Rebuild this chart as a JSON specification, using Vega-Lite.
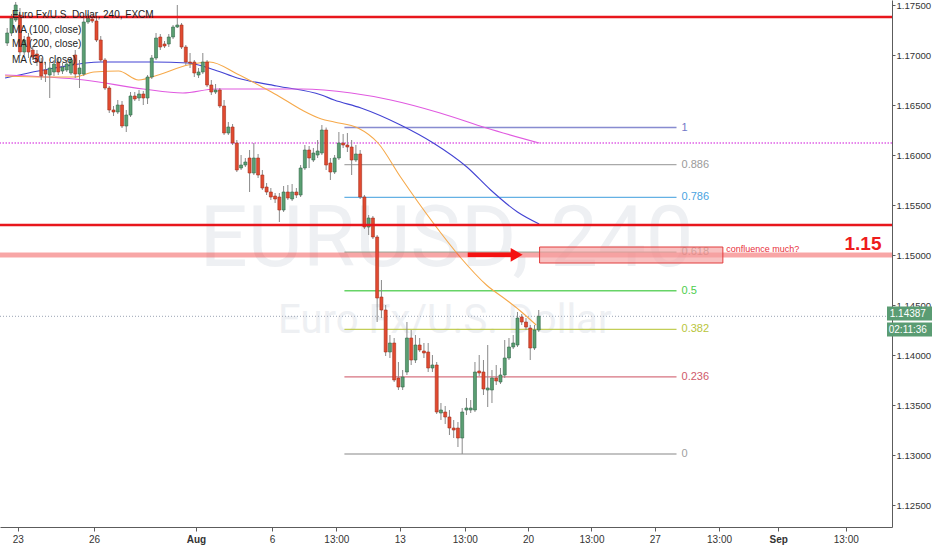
{
  "$schema": "https://vega.github.io/schema/vega-lite/v6.json",
  "width": 892,
  "height": 527,
  "autosize": {"type": "none"},
  "padding": {"left": 0, "top": 0, "right": 40, "bottom": 23},
  "background": "#ffffff",
  "config": {
    "font": "Liberation Sans",
    "view": {"stroke": null},
    "axis": {"grid": false, "domainColor": "#5c5c5c", "tickColor": "#5c5c5c", "labelColor": "#333333", "labelFontSize": 10, "labelFont": "Liberation Sans"}
  },
  "datasets": {
    "candles": [
      {"t":0,"o":1.1712,"h":1.1727,"l":1.1709,"c":1.1722},
      {"t":1,"o":1.1722,"h":1.1741,"l":1.1719,"c":1.1737},
      {"t":2,"o":1.1735,"h":1.1753,"l":1.1733,"c":1.1750},
      {"t":3,"o":1.1740,"h":1.1747,"l":1.1699,"c":1.1703},
      {"t":4,"o":1.1703,"h":1.1719,"l":1.1700,"c":1.1715},
      {"t":5,"o":1.1718,"h":1.1722,"l":1.1697,"c":1.1703},
      {"t":6,"o":1.1705,"h":1.1709,"l":1.1695,"c":1.1698},
      {"t":7,"o":1.1701,"h":1.1705,"l":1.1689,"c":1.1693},
      {"t":8,"o":1.1693,"h":1.1697,"l":1.1675,"c":1.1679},
      {"t":9,"o":1.1685,"h":1.1693,"l":1.1673,"c":1.1681},
      {"t":10,"o":1.1680,"h":1.1693,"l":1.1657,"c":1.1687},
      {"t":11,"o":1.1683,"h":1.1695,"l":1.1679,"c":1.1691},
      {"t":12,"o":1.1693,"h":1.1697,"l":1.1680,"c":1.1683},
      {"t":13,"o":1.1684,"h":1.1692,"l":1.1681,"c":1.1688},
      {"t":14,"o":1.1685,"h":1.1695,"l":1.1683,"c":1.1691},
      {"t":15,"o":1.1682,"h":1.1697,"l":1.1680,"c":1.1695},
      {"t":16,"o":1.1700,"h":1.1705,"l":1.1677,"c":1.1681},
      {"t":17,"o":1.1681,"h":1.1695,"l":1.1667,"c":1.1687},
      {"t":18,"o":1.1681,"h":1.1737,"l":1.1679,"c":1.1733},
      {"t":19,"o":1.1733,"h":1.1741,"l":1.1731,"c":1.1737},
      {"t":20,"o":1.1736,"h":1.1740,"l":1.1732,"c":1.1734},
      {"t":21,"o":1.1734,"h":1.1737,"l":1.1713,"c":1.1715},
      {"t":22,"o":1.1715,"h":1.1719,"l":1.1693,"c":1.1695},
      {"t":23,"o":1.1695,"h":1.1697,"l":1.1665,"c":1.1667},
      {"t":24,"o":1.1667,"h":1.1669,"l":1.1642,"c":1.1645},
      {"t":25,"o":1.1645,"h":1.1649,"l":1.1639,"c":1.1643},
      {"t":26,"o":1.1643,"h":1.1655,"l":1.1641,"c":1.1650},
      {"t":27,"o":1.1650,"h":1.1654,"l":1.1627,"c":1.1629},
      {"t":28,"o":1.1629,"h":1.1645,"l":1.1623,"c":1.1640},
      {"t":29,"o":1.1640,"h":1.1663,"l":1.1638,"c":1.1659},
      {"t":30,"o":1.1659,"h":1.1663,"l":1.1654,"c":1.1656},
      {"t":31,"o":1.1657,"h":1.1665,"l":1.1654,"c":1.1661},
      {"t":32,"o":1.1661,"h":1.1664,"l":1.1650,"c":1.1657},
      {"t":33,"o":1.1657,"h":1.1680,"l":1.1651,"c":1.1678},
      {"t":34,"o":1.1678,"h":1.1700,"l":1.1676,"c":1.1697},
      {"t":35,"o":1.1697,"h":1.1722,"l":1.1695,"c":1.1717},
      {"t":36,"o":1.1718,"h":1.1721,"l":1.1705,"c":1.1708},
      {"t":37,"o":1.1711,"h":1.1714,"l":1.1707,"c":1.1709},
      {"t":38,"o":1.1711,"h":1.1721,"l":1.1708,"c":1.1718},
      {"t":39,"o":1.1718,"h":1.1730,"l":1.1716,"c":1.1728},
      {"t":40,"o":1.1728,"h":1.1750,"l":1.1727,"c":1.1730},
      {"t":41,"o":1.1730,"h":1.1732,"l":1.1706,"c":1.1708},
      {"t":42,"o":1.1708,"h":1.1710,"l":1.1690,"c":1.1693},
      {"t":43,"o":1.1693,"h":1.1702,"l":1.1687,"c":1.1692},
      {"t":44,"o":1.1693,"h":1.1695,"l":1.1678,"c":1.1682},
      {"t":45,"o":1.1680,"h":1.1687,"l":1.1677,"c":1.1683},
      {"t":46,"o":1.1683,"h":1.1702,"l":1.1681,"c":1.1693},
      {"t":47,"o":1.1693,"h":1.1695,"l":1.1668,"c":1.1670},
      {"t":48,"o":1.1670,"h":1.1675,"l":1.1660,"c":1.1663},
      {"t":49,"o":1.1663,"h":1.1671,"l":1.1661,"c":1.1665},
      {"t":50,"o":1.1665,"h":1.1667,"l":1.1647,"c":1.1649},
      {"t":51,"o":1.1649,"h":1.1655,"l":1.1620,"c":1.1622},
      {"t":52,"o":1.1622,"h":1.1633,"l":1.1620,"c":1.1628},
      {"t":53,"o":1.1628,"h":1.1631,"l":1.1610,"c":1.1612},
      {"t":54,"o":1.1612,"h":1.1615,"l":1.1583,"c":1.1585},
      {"t":55,"o":1.1587,"h":1.1600,"l":1.1585,"c":1.1590},
      {"t":56,"o":1.1590,"h":1.1597,"l":1.1588,"c":1.1593},
      {"t":57,"o":1.1597,"h":1.1605,"l":1.1563,"c":1.1582},
      {"t":58,"o":1.1582,"h":1.1612,"l":1.1580,"c":1.1597},
      {"t":59,"o":1.1597,"h":1.1601,"l":1.1577,"c":1.1580},
      {"t":60,"o":1.1580,"h":1.1585,"l":1.1565,"c":1.1567},
      {"t":61,"o":1.1568,"h":1.1572,"l":1.1560,"c":1.1563},
      {"t":62,"o":1.1563,"h":1.1567,"l":1.1555,"c":1.1558},
      {"t":63,"o":1.1559,"h":1.1562,"l":1.1552,"c":1.1556},
      {"t":64,"o":1.1558,"h":1.1562,"l":1.1533,"c":1.1545},
      {"t":65,"o":1.1545,"h":1.1569,"l":1.1543,"c":1.1563},
      {"t":66,"o":1.1563,"h":1.1570,"l":1.1555,"c":1.1557},
      {"t":67,"o":1.1556,"h":1.1571,"l":1.1554,"c":1.1563},
      {"t":68,"o":1.1563,"h":1.1567,"l":1.1557,"c":1.1560},
      {"t":69,"o":1.1560,"h":1.1590,"l":1.1558,"c":1.1587},
      {"t":70,"o":1.1587,"h":1.1610,"l":1.1585,"c":1.1605},
      {"t":71,"o":1.1605,"h":1.1609,"l":1.1587,"c":1.1597},
      {"t":72,"o":1.1595,"h":1.1607,"l":1.1593,"c":1.1602},
      {"t":73,"o":1.1600,"h":1.1615,"l":1.1597,"c":1.1604},
      {"t":74,"o":1.1602,"h":1.1630,"l":1.1600,"c":1.1625},
      {"t":75,"o":1.1625,"h":1.16275,"l":1.1585,"c":1.1590},
      {"t":76,"o":1.1592,"h":1.1597,"l":1.1575,"c":1.1583},
      {"t":77,"o":1.1583,"h":1.1600,"l":1.1581,"c":1.1597},
      {"t":78,"o":1.1597,"h":1.1623,"l":1.1595,"c":1.1612},
      {"t":79,"o":1.1612,"h":1.1621,"l":1.1607,"c":1.1610},
      {"t":80,"o":1.1610,"h":1.1622,"l":1.1603,"c":1.1608},
      {"t":81,"o":1.1608,"h":1.1615,"l":1.1580,"c":1.1595},
      {"t":82,"o":1.1595,"h":1.1610,"l":1.1593,"c":1.1601},
      {"t":83,"o":1.1601,"h":1.1605,"l":1.1556,"c":1.1558},
      {"t":84,"o":1.1558,"h":1.1560,"l":1.1526,"c":1.1528},
      {"t":85,"o":1.1528,"h":1.1540,"l":1.1520,"c":1.1537},
      {"t":86,"o":1.1537,"h":1.1539,"l":1.1516,"c":1.1518},
      {"t":87,"o":1.1518,"h":1.1520,"l":1.1433,"c":1.1457},
      {"t":88,"o":1.1458,"h":1.1475,"l":1.1437,"c":1.1445},
      {"t":89,"o":1.1445,"h":1.1450,"l":1.1399,"c":1.1403},
      {"t":90,"o":1.1403,"h":1.1420,"l":1.1397,"c":1.1412},
      {"t":91,"o":1.1412,"h":1.1417,"l":1.1373,"c":1.1375},
      {"t":92,"o":1.1377,"h":1.1393,"l":1.1365,"c":1.1368},
      {"t":93,"o":1.1368,"h":1.1385,"l":1.1365,"c":1.1378},
      {"t":94,"o":1.1383,"h":1.1433,"l":1.1380,"c":1.1417},
      {"t":95,"o":1.1417,"h":1.1425,"l":1.1390,"c":1.1395},
      {"t":96,"o":1.1395,"h":1.1420,"l":1.1392,"c":1.1410},
      {"t":97,"o":1.1410,"h":1.1417,"l":1.1403,"c":1.1405},
      {"t":98,"o":1.1404,"h":1.1412,"l":1.1397,"c":1.1402},
      {"t":99,"o":1.1403,"h":1.1412,"l":1.1383,"c":1.1387},
      {"t":100,"o":1.1387,"h":1.1400,"l":1.1383,"c":1.1390},
      {"t":101,"o":1.1390,"h":1.1393,"l":1.1341,"c":1.1343},
      {"t":102,"o":1.1342,"h":1.1352,"l":1.1335,"c":1.1345},
      {"t":103,"o":1.1343,"h":1.1349,"l":1.1331,"c":1.1338},
      {"t":104,"o":1.1338,"h":1.1345,"l":1.1320,"c":1.1327},
      {"t":105,"o":1.1327,"h":1.1335,"l":1.1317,"c":1.1325},
      {"t":106,"o":1.1327,"h":1.1333,"l":1.1308,"c":1.1317},
      {"t":107,"o":1.1317,"h":1.1347,"l":1.1301,"c":1.1343},
      {"t":108,"o":1.1345,"h":1.1357,"l":1.1340,"c":1.1347},
      {"t":109,"o":1.1345,"h":1.1355,"l":1.1342,"c":1.1347},
      {"t":110,"o":1.1345,"h":1.1393,"l":1.1343,"c":1.1383},
      {"t":111,"o":1.1384,"h":1.1400,"l":1.1379,"c":1.1382},
      {"t":112,"o":1.1383,"h":1.1395,"l":1.1360,"c":1.1366},
      {"t":113,"o":1.1365,"h":1.1410,"l":1.1348,"c":1.1367},
      {"t":114,"o":1.1365,"h":1.1385,"l":1.1352,"c":1.1377},
      {"t":115,"o":1.1377,"h":1.1390,"l":1.1370,"c":1.1374},
      {"t":116,"o":1.1373,"h":1.1387,"l":1.1371,"c":1.1380},
      {"t":117,"o":1.1380,"h":1.1415,"l":1.1377,"c":1.1397},
      {"t":118,"o":1.1397,"h":1.1417,"l":1.1395,"c":1.1408},
      {"t":119,"o":1.1408,"h":1.1420,"l":1.1406,"c":1.1412},
      {"t":120,"o":1.1410,"h":1.1443,"l":1.1408,"c":1.1437},
      {"t":121,"o":1.1438,"h":1.1441,"l":1.1430,"c":1.1433},
      {"t":122,"o":1.1433,"h":1.1437,"l":1.1425,"c":1.1428},
      {"t":123,"o":1.1427,"h":1.1430,"l":1.1395,"c":1.1407},
      {"t":124,"o":1.1407,"h":1.1430,"l":1.1405,"c":1.1425},
      {"t":125,"o":1.1425,"h":1.1445,"l":1.1423,"c":1.14387}
    ],
    "ma": [
      {"ma":"MA100","t":-0.5,"p":1.1677},{"ma":"MA100","t":11.1,"p":1.1687},{"ma":"MA100","t":22.0,"p":1.1693},
      {"ma":"MA100","t":34.4,"p":1.1693},{"ma":"MA100","t":42.5,"p":1.1692},{"ma":"MA100","t":48.8,"p":1.1685},
      {"ma":"MA100","t":54.1,"p":1.1677},{"ma":"MA100","t":63.4,"p":1.1669},{"ma":"MA100","t":73.9,"p":1.1660},
      {"ma":"MA100","t":76.9,"p":1.1655},{"ma":"MA100","t":83.2,"p":1.1647},{"ma":"MA100","t":92.5,"p":1.1630},
      {"ma":"MA100","t":100.2,"p":1.1612},{"ma":"MA100","t":108.1,"p":1.1588},{"ma":"MA100","t":113.7,"p":1.1565},
      {"ma":"MA100","t":120.0,"p":1.1543},{"ma":"MA100","t":125.1,"p":1.1531},
      {"ma":"MA200","t":-0.5,"p":1.1680},{"ma":"MA200","t":18.1,"p":1.1675},{"ma":"MA200","t":32.0,"p":1.1666},
      {"ma":"MA200","t":41.3,"p":1.1662},{"ma":"MA200","t":49.0,"p":1.1666},{"ma":"MA200","t":69.3,"p":1.1666},
      {"ma":"MA200","t":80.9,"p":1.1662},{"ma":"MA200","t":90.2,"p":1.1655},{"ma":"MA200","t":101.8,"p":1.1642},
      {"ma":"MA200","t":112.7,"p":1.1627},{"ma":"MA200","t":125.1,"p":1.1612},
      {"ma":"MA50","t":-0.5,"p":1.1679},{"ma":"MA50","t":8.8,"p":1.1678},{"ma":"MA50","t":15.8,"p":1.1678},
      {"ma":"MA50","t":20.4,"p":1.1683},{"ma":"MA50","t":26.2,"p":1.1684},{"ma":"MA50","t":30.9,"p":1.1675},
      {"ma":"MA50","t":35.5,"p":1.1680},{"ma":"MA50","t":42.5,"p":1.1690},{"ma":"MA50","t":47.6,"p":1.1693},
      {"ma":"MA50","t":54.1,"p":1.1681},{"ma":"MA50","t":60.4,"p":1.1667},{"ma":"MA50","t":63.4,"p":1.1660},
      {"ma":"MA50","t":69.3,"p":1.1645},{"ma":"MA50","t":73.9,"p":1.1636},{"ma":"MA50","t":76.9,"p":1.1633},
      {"ma":"MA50","t":82.5,"p":1.1627},{"ma":"MA50","t":87.2,"p":1.1612},{"ma":"MA50","t":92.5,"p":1.1578},
      {"ma":"MA50","t":100.2,"p":1.1532},{"ma":"MA50","t":106.5,"p":1.1498},{"ma":"MA50","t":112.7,"p":1.1470},
      {"ma":"MA50","t":117.4,"p":1.1455},{"ma":"MA50","t":120.4,"p":1.1445},{"ma":"MA50","t":124.4,"p":1.1430}
    ],
    "fib": [
      {"lv":"1","p":1.16275,"x0":79.3,"x1":157.4},
      {"lv":"0.886","p":1.15903,"x0":79.3,"x1":157.4},
      {"lv":"0.786","p":1.15576,"x0":79.3,"x1":157.4},
      {"lv":"0.618","p":1.15028,"x0":79.3,"x1":157.4},
      {"lv":"0.5","p":1.146425,"x0":79.3,"x1":157.4},
      {"lv":"0.382","p":1.142572,"x0":79.3,"x1":157.4},
      {"lv":"0.236","p":1.137805,"x0":79.3,"x1":157.4},
      {"lv":"0","p":1.1301,"x0":79.3,"x1":157.4}
    ]
  },
  "layer": [
    {
      "data": {"values": [{"t": 103.3, "p": 1.1515, "txt": "EURUSD, 240"}]},
      "mark": {"type": "text", "font": "Roboto", "fontSize": 85, "color": "#eef0f3", "align": "center", "baseline": "middle"},
      "encoding": {
        "x": {"field": "t", "type": "quantitative", "title": null},
        "y": {"field": "p", "type": "quantitative", "title": null},
        "text": {"field": "txt"}
      }
    },
    {
      "data": {"values": [{"t": 102.9, "p": 1.1434, "txt": "Euro Fx/U.S. Dollar"}]},
      "mark": {"type": "text", "font": "Roboto", "fontSize": 40, "color": "#eef0f3", "align": "center", "baseline": "middle"},
      "encoding": {
        "x": {"field": "t", "type": "quantitative", "title": null},
        "y": {"field": "p", "type": "quantitative", "title": null},
        "text": {"field": "txt"}
      }
    },
    {
      "data": {"values": [{"p": 1.1612}]},
      "mark": {"type": "rule", "color": "#e060e6", "strokeWidth": 1.5, "strokeDash": [1.5, 1.5]},
      "encoding": {"y": {"field": "p", "type": "quantitative", "title": null}}
    },
    {
      "data": {"values": [{"p": 1.14387}]},
      "mark": {"type": "rule", "color": "#9aa3b3", "strokeWidth": 1, "strokeDash": [1, 2]},
      "encoding": {"y": {"field": "p", "type": "quantitative", "title": null}}
    },
    {
      "data": {"name": "fib"},
      "mark": {"type": "rule", "strokeWidth": 1.3, "opacity": 0.85},
      "encoding": {
        "x": {"field": "x0", "type": "quantitative", "title": null},
        "x2": {"field": "x1", "title": null},
        "y": {"field": "p", "type": "quantitative", "title": null},
        "color": {"field": "lv", "type": "nominal", "legend": null,
          "scale": {"domain": ["1", "0.886", "0.786", "0.618", "0.5", "0.382", "0.236", "0"],
                    "range": ["#7378c8", "#9a9a9a", "#4aa3df", "#8fa08f", "#4ccd4c", "#b9c53a", "#cf5a6a", "#a0a0a0"]}}
      }
    },
    {
      "data": {"name": "fib"},
      "mark": {"type": "text", "fontSize": 11, "align": "left", "baseline": "middle", "dx": 5},
      "encoding": {
        "x": {"field": "x1", "type": "quantitative", "title": null},
        "y": {"field": "p", "type": "quantitative", "title": null},
        "text": {"field": "lv"},
        "color": {"field": "lv", "type": "nominal", "legend": null}
      }
    },
    {
      "data": {"name": "ma"},
      "mark": {"type": "line", "strokeWidth": 1.1, "interpolate": "monotone"},
      "encoding": {
        "x": {"field": "t", "type": "quantitative", "title": null},
        "y": {"field": "p", "type": "quantitative", "title": null},
        "stroke": {"field": "ma", "type": "nominal", "legend": null,
          "scale": {"domain": ["MA100", "MA200", "MA50"], "range": ["#4343d3", "#e05ae0", "#f6a94a"]}}
      }
    },
    {
      "data": {"name": "candles"},
      "mark": {"type": "rule", "color": "#8a8a8a", "strokeWidth": 1},
      "encoding": {
        "x": {"field": "t", "type": "quantitative", "title": null},
        "y": {"field": "l", "type": "quantitative", "title": null},
        "y2": {"field": "h", "title": null}
      }
    },
    {
      "data": {"name": "candles"},
      "mark": {"type": "bar", "size": 3, "strokeWidth": 0.6},
      "encoding": {
        "x": {"field": "t", "type": "quantitative", "title": null,
          "scale": {"domain": [-0.52, 206.9], "nice": false, "zero": false},
          "axis": {
            "orient": "bottom",
            "values": [2.5, 20.4, 44.4, 62.3, 77.4, 92.3, 107.6, 122.5, 137.4, 152.3, 167.4, 181.3, 197.2],
            "labelExpr": "datum.value < 10 ? '23' : datum.value < 30 ? '26' : datum.value < 50 ? 'Aug' : datum.value < 70 ? '6' : datum.value < 85 ? '13:00' : datum.value < 100 ? '13' : datum.value < 115 ? '13:00' : datum.value < 130 ? '20' : datum.value < 145 ? '13:00' : datum.value < 160 ? '27' : datum.value < 175 ? '13:00' : datum.value < 190 ? 'Sep' : '13:00'",
            "labelFontWeight": {"condition": {"test": "(datum.value > 40 && datum.value < 50) || (datum.value > 175 && datum.value < 190)", "value": "bold"}, "value": "normal"},
            "tickSize": 4, "labelPadding": 3, "labelFlush": false, "labelOverlap": false, "labelBound": false
          }
        },
        "y": {"field": "o", "type": "quantitative", "title": null,
          "scale": {"domain": [1.1228, 1.1755], "nice": false, "zero": false},
          "axis": {
            "orient": "right",
            "values": [1.125, 1.13, 1.135, 1.14, 1.145, 1.15, 1.155, 1.16, 1.165, 1.17, 1.175],
            "format": ".5f", "tickSize": 3, "labelPadding": 1, "labelFontSize": 9.6, "labelFlush": false, "labelOverlap": false, "labelBound": false
          }
        },
        "y2": {"field": "c", "title": null},
        "fill": {"condition": {"test": "datum.c >= datum.o", "value": "#5a9f72"}, "value": "#e24a30"},
        "stroke": {"condition": {"test": "datum.c >= datum.o", "value": "#33684a"}, "value": "#a3301f"}
      }
    },
    {
      "data": {"values": [{"p": 1.1738}, {"p": 1.1530}]},
      "mark": {"type": "rule", "color": "#e8161c", "strokeWidth": 2.5},
      "encoding": {"y": {"field": "p", "type": "quantitative", "title": null}}
    },
    {
      "data": {"values": [{"p": 1.1500}]},
      "mark": {"type": "rule", "color": "#f03a3a", "strokeWidth": 5, "opacity": 0.45},
      "encoding": {"y": {"field": "p", "type": "quantitative", "title": null}}
    },
    {
      "data": {"values": [{"t0": 125.2, "t1": 168.3, "p0": 1.1492, "p1": 1.1508}]},
      "mark": {"type": "rect", "fill": "#f5a0a0", "fillOpacity": 0.65, "stroke": "#e23c3c", "strokeWidth": 1},
      "encoding": {
        "x": {"field": "t0", "type": "quantitative", "title": null},
        "x2": {"field": "t1", "title": null},
        "y": {"field": "p0", "type": "quantitative", "title": null},
        "y2": {"field": "p1", "title": null}
      }
    },
    {
      "data": {"values": [{"t0": 108.3, "t1": 118.8, "p": 1.15002}]},
      "mark": {"type": "rule", "color": "#f51212", "strokeWidth": 4.5},
      "encoding": {
        "x": {"field": "t0", "type": "quantitative", "title": null},
        "x2": {"field": "t1", "title": null},
        "y": {"field": "p", "type": "quantitative", "title": null}
      }
    },
    {
      "data": {"values": [{"t": 119.8, "p": 1.15002}]},
      "mark": {"type": "point", "shape": "triangle-right", "size": 190, "filled": true, "color": "#f51212", "opacity": 1},
      "encoding": {
        "x": {"field": "t", "type": "quantitative", "title": null},
        "y": {"field": "p", "type": "quantitative", "title": null}
      }
    },
    {
      "data": {"values": [{"t": 169.1, "p": 1.1506, "txt": "confluence much?"}]},
      "mark": {"type": "text", "fontSize": 9, "color": "#e8303c", "align": "left", "baseline": "middle"},
      "encoding": {
        "x": {"field": "t", "type": "quantitative", "title": null},
        "y": {"field": "p", "type": "quantitative", "title": null},
        "text": {"field": "txt"}
      }
    },
    {
      "data": {"values": [{"t": 205.6, "p": 1.15115, "txt": "1.15"}]},
      "mark": {"type": "text", "fontSize": 19, "fontWeight": "bold", "color": "#ee1c1c", "align": "right", "baseline": "middle"},
      "encoding": {
        "x": {"field": "t", "type": "quantitative", "title": null},
        "y": {"field": "p", "type": "quantitative", "title": null},
        "text": {"field": "txt"}
      }
    },
    {
      "data": {"values": [
        {"t": 1.1, "p": 1.1740, "txt": "Euro Fx/U.S. Dollar, 240, FXCM"},
        {"t": 1.1, "p": 1.1725, "txt": "MA (100, close)"},
        {"t": 1.1, "p": 1.1711, "txt": "MA (200, close)"},
        {"t": 1.1, "p": 1.1695, "txt": "MA (50, close)"}
      ]},
      "mark": {"type": "text", "fontSize": 10, "color": "#222222", "align": "left", "baseline": "middle"},
      "encoding": {
        "x": {"field": "t", "type": "quantitative", "title": null},
        "y": {"field": "p", "type": "quantitative", "title": null},
        "text": {"field": "txt"}
      }
    },
    {
      "data": {"values": [
        {"t0": 206.9, "t1": 217.5, "p0": 1.14485, "p1": 1.14345},
        {"t0": 206.9, "t1": 217.5, "p0": 1.14325, "p1": 1.14185}
      ]},
      "mark": {"type": "rect", "fill": "#5a9c73"},
      "encoding": {
        "x": {"field": "t0", "type": "quantitative", "title": null},
        "x2": {"field": "t1", "title": null},
        "y": {"field": "p0", "type": "quantitative", "title": null},
        "y2": {"field": "p1", "title": null}
      }
    },
    {
      "data": {"values": [
        {"t": 211.8, "p": 1.14415, "txt": "1.14387"},
        {"t": 211.8, "p": 1.14255, "txt": "02:11:36"}
      ]},
      "mark": {"type": "text", "fontSize": 10, "color": "#ffffff", "align": "center", "baseline": "middle"},
      "encoding": {
        "x": {"field": "t", "type": "quantitative", "title": null},
        "y": {"field": "p", "type": "quantitative", "title": null},
        "text": {"field": "txt"}
      }
    }
  ]
}
